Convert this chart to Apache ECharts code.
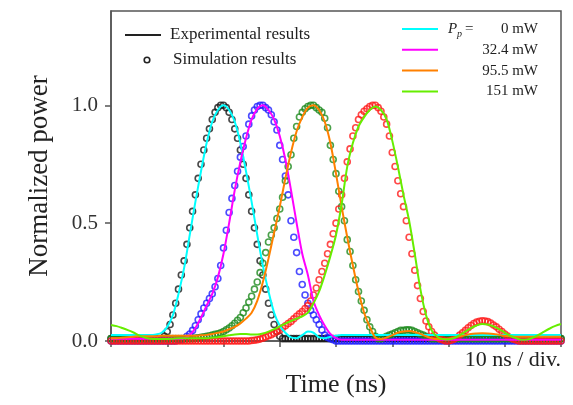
<!DOCTYPE html>
<html>
<head>
<meta charset="utf-8">
<title>Normalized power vs time</title>
<script src="https://cdn.jsdelivr.net/npm/echarts@6.0.0/dist/echarts.min.js"></script>
<style>
  html, body { margin: 0; padding: 0; background: #fff; }
  #main { width: 573px; height: 405px; }
</style>
</head>
<body>
<div id="main"></div>
<script>
// simulated points, one every 0.5 ns
var simTime = [
  0, 0.5, 1, 1.5, 2, 2.5, 3, 3.5, 4, 4.5,
  5, 5.5, 6, 6.5, 7, 7.5, 8, 8.5, 9, 9.5,
  10, 10.5, 11, 11.5, 12, 12.5, 13, 13.5, 14, 14.5,
  15, 15.5, 16, 16.5, 17, 17.5, 18, 18.5, 19, 19.5,
  20, 20.5, 21, 21.5, 22, 22.5, 23, 23.5, 24, 24.5,
  25, 25.5, 26, 26.5, 27, 27.5, 28, 28.5, 29, 29.5,
  30, 30.5, 31, 31.5, 32, 32.5, 33, 33.5, 34, 34.5,
  35, 35.5, 36, 36.5, 37, 37.5, 38, 38.5, 39, 39.5,
  40, 40.5, 41, 41.5, 42, 42.5, 43, 43.5, 44, 44.5,
  45, 45.5, 46, 46.5, 47, 47.5, 48, 48.5, 49, 49.5,
  50, 50.5, 51, 51.5, 52, 52.5, 53, 53.5, 54, 54.5,
  55, 55.5, 56, 56.5, 57, 57.5, 58, 58.5, 59, 59.5,
  60, 60.5, 61, 61.5, 62, 62.5, 63, 63.5, 64, 64.5,
  65, 65.5, 66, 66.5, 67, 67.5, 68, 68.5, 69, 69.5,
  70, 70.5, 71, 71.5, 72, 72.5, 73, 73.5, 74, 74.5,
  75, 75.5, 76, 76.5, 77, 77.5, 78, 78.5, 79, 79.5,
  80
];
var sim0 = [
  0.01, 0.01, 0.01, 0.01, 0.01, 0.01, 0.01, 0.01, 0.01, 0.01,
  0.01, 0.01, 0.01, 0.01, 0.01, 0.01, 0.01, 0.01, 0.01, 0.02,
  0.04, 0.07, 0.11, 0.16, 0.22, 0.28, 0.34, 0.41, 0.48, 0.55,
  0.62, 0.69, 0.75, 0.81, 0.86, 0.9, 0.94, 0.97, 0.99, 1,
  1, 0.99, 0.97, 0.94, 0.9, 0.86, 0.81, 0.75, 0.69, 0.62,
  0.55, 0.48, 0.41, 0.34, 0.28, 0.22, 0.16, 0.11, 0.07, 0.04,
  0.02, 0.01, 0.01, 0.01, 0.01, 0.01, 0.01, 0.01, 0.01, 0.01,
  0.01, 0.01, 0.01, 0.01, 0.01, 0.01, 0.01, 0.01, 0.01, 0.01,
  0.01, 0.01, 0.01, 0.01, 0.01, 0.01, 0.01, 0.01, 0.01, 0.01,
  0.01, 0.01, 0.01, 0.01, 0.01, 0.01, 0.01, 0.01, 0.01, 0.01,
  0.01, 0.01, 0.01, 0.01, 0.01, 0.01, 0.01, 0.01, 0.01, 0.01,
  0.01, 0.01, 0.01, 0.01, 0.01, 0.01, 0.01, 0.01, 0.01, 0.01,
  0.01, 0.01, 0.01, 0.01, 0.01, 0.01, 0.01, 0.01, 0.01, 0.01,
  0.01, 0.01, 0.01, 0.01, 0.01, 0.01, 0.01, 0.01, 0.01, 0.01,
  0.01, 0.01, 0.01, 0.01, 0.01, 0.01, 0.01, 0.01, 0.01, 0.01,
  0.01, 0.01, 0.01, 0.01, 0.01, 0.01, 0.01, 0.01, 0.01, 0.01,
  0.01
];
var sim32 = [
  0, 0, 0, 0, 0, 0, 0, 0, 0, 0,
  0, 0, 0, 0, 0, 0, 0, 0, 0, 0,
  0, 0, 0, 0, 0.003, 0.006, 0.01, 0.02, 0.03, 0.045,
  0.065, 0.09, 0.115, 0.14, 0.16, 0.18, 0.2, 0.23, 0.265, 0.32,
  0.395, 0.47, 0.545, 0.605, 0.66, 0.72, 0.78, 0.825, 0.87, 0.92,
  0.955, 0.98, 0.995, 1, 1, 0.99, 0.98, 0.96, 0.93, 0.895,
  0.83, 0.77, 0.7, 0.62, 0.51, 0.44, 0.375, 0.295, 0.24, 0.195,
  0.16, 0.13, 0.11, 0.09, 0.07, 0.047, 0.025, 0.015, 0.01, 0.005,
  0, 0, 0, 0, 0, 0, 0, 0, 0, 0,
  0, 0, 0, 0, 0, 0, 0, 0, 0, 0,
  0, 0, 0, 0, 0, 0, 0, 0, 0, 0,
  0, 0, 0, 0, 0, 0, 0, 0, 0, 0,
  0, 0, 0, 0, 0, 0, 0, 0, 0, 0,
  0, 0, 0, 0, 0, 0, 0, 0, 0, 0,
  0, 0, 0, 0, 0, 0, 0, 0, 0, 0,
  0, 0, 0, 0, 0, 0, 0, 0, 0, 0,
  0
];
var sim95 = [
  0.01, 0.01, 0.01, 0.01, 0.01, 0.01, 0.01, 0.01, 0.01, 0.01,
  0.01, 0.01, 0.01, 0.01, 0.01, 0.01, 0.01, 0.01, 0.01, 0.01,
  0.01, 0.01, 0.01, 0.01, 0.01, 0.01, 0.01, 0.01, 0.01, 0.01,
  0.012, 0.014, 0.016, 0.018, 0.02, 0.022, 0.025, 0.028, 0.031, 0.035,
  0.04, 0.048, 0.055, 0.065, 0.075, 0.088, 0.1, 0.12, 0.14, 0.165,
  0.19, 0.22, 0.25, 0.29, 0.33, 0.375, 0.42, 0.45, 0.48, 0.52,
  0.56, 0.61, 0.68, 0.74, 0.79, 0.86, 0.91, 0.95, 0.97, 0.985,
  0.995, 1, 1, 0.99, 0.98, 0.97, 0.945, 0.905, 0.83, 0.77,
  0.71, 0.635, 0.57, 0.51, 0.43, 0.38, 0.32, 0.26, 0.21, 0.17,
  0.13, 0.09, 0.06, 0.04, 0.02, 0.01, 0.01, 0.015, 0.02, 0.025,
  0.03, 0.035, 0.04, 0.045, 0.045, 0.047, 0.047, 0.045, 0.04, 0.035,
  0.03, 0.025, 0.02, 0.015, 0.01, 0.01, 0.01, 0.01, 0.01, 0.01,
  0.01, 0.01, 0.01, 0.01, 0.01, 0.01, 0.01, 0.01, 0.01, 0.01,
  0.01, 0.01, 0.01, 0.01, 0.01, 0.01, 0.01, 0.01, 0.01, 0.01,
  0.01, 0.01, 0.01, 0.01, 0.01, 0.01, 0.01, 0.01, 0.01, 0.01,
  0.01, 0.01, 0.01, 0.01, 0.01, 0.01, 0.01, 0.01, 0.01, 0.01,
  0.01
];
var sim151 = [
  0, 0, 0, 0, 0, 0, 0, 0, 0, 0,
  0, 0, 0, 0, 0, 0, 0, 0, 0, 0,
  0, 0, 0, 0, 0, 0, 0, 0, 0, 0,
  0, 0, 0, 0, 0, 0, 0, 0, 0, 0,
  0, 0, 0, 0, 0, 0, 0, 0, 0, 0,
  0.002, 0.003, 0.005, 0.008, 0.012, 0.017, 0.022, 0.027, 0.033, 0.04,
  0.047, 0.056, 0.065, 0.074, 0.083, 0.094, 0.105, 0.115, 0.125, 0.138,
  0.15, 0.17, 0.195, 0.225, 0.26, 0.295, 0.33, 0.37, 0.41, 0.455,
  0.5, 0.56, 0.62, 0.69, 0.76, 0.815, 0.87, 0.905, 0.94, 0.96,
  0.975, 0.985, 0.995, 1, 1, 0.99, 0.975, 0.95, 0.92, 0.87,
  0.8, 0.74, 0.68, 0.625, 0.57, 0.51, 0.44, 0.37, 0.3, 0.235,
  0.18, 0.125, 0.085, 0.06, 0.04, 0.025, 0.015, 0.008, 0.004, 0,
  0, 0.003, 0.008, 0.015, 0.025, 0.035, 0.045, 0.056, 0.066, 0.074,
  0.08, 0.084, 0.086, 0.085, 0.082, 0.076, 0.068, 0.06, 0.05, 0.04,
  0.03, 0.021, 0.014, 0.008, 0.004, 0, 0, 0, 0, 0,
  0, 0, 0, 0, 0, 0, 0, 0, 0, 0,
  0
];

// measured traces, one point per ns
var expTime = [
  0, 1, 2, 3, 4, 5, 6, 7, 8, 9,
  10, 11, 12, 13, 14, 15, 16, 17, 18, 19,
  20, 21, 22, 23, 24, 25, 26, 27, 28, 29,
  30, 31, 32, 33, 34, 35, 36, 37, 38, 39,
  40, 41, 42, 43, 44, 45, 46, 47, 48, 49,
  50, 51, 52, 53, 54, 55, 56, 57, 58, 59,
  60, 61, 62, 63, 64, 65, 66, 67, 68, 69,
  70, 71, 72, 73, 74, 75, 76, 77, 78, 79,
  80
];
var exp0 = [
  0.025, 0.025, 0.025, 0.025, 0.025, 0.025, 0.025, 0.025, 0.028, 0.035,
  0.06, 0.11, 0.2, 0.31, 0.45, 0.59, 0.72, 0.84, 0.93, 0.98,
  1, 0.98, 0.93, 0.84, 0.72, 0.59, 0.45, 0.32, 0.21, 0.12,
  0.065, 0.035, 0.015, 0.012, 0.025, 0.04, 0.035, 0.015, 0.012, 0.018,
  0.022, 0.025, 0.025, 0.025, 0.025, 0.025, 0.025, 0.025, 0.025, 0.025,
  0.025, 0.025, 0.025, 0.025, 0.025, 0.025, 0.025, 0.025, 0.025, 0.025,
  0.025, 0.025, 0.025, 0.025, 0.025, 0.025, 0.025, 0.025, 0.025, 0.025,
  0.025, 0.025, 0.025, 0.025, 0.025, 0.025, 0.025, 0.025, 0.025, 0.025,
  0.025
];
var exp32 = [
  0.01, 0.01, 0.01, 0.01, 0.01, 0.01, 0.01, 0.01, 0.01, 0.01,
  0.01, 0.01, 0.01, 0.012, 0.025, 0.055, 0.1, 0.15, 0.2, 0.27,
  0.37, 0.5, 0.64, 0.76, 0.86, 0.94, 0.985, 1, 0.98, 0.94,
  0.87, 0.77, 0.64, 0.5, 0.37, 0.28, 0.17, 0.11, 0.065, 0.03,
  0.012, 0.005, 0.005, 0.005, 0.005, 0.005, 0.005, 0.005, 0.005, 0.005,
  0.005, 0.005, 0.005, 0.005, 0.005, 0.005, 0.005, 0.005, 0.005, 0.005,
  0.005, 0.005, 0.005, 0.005, 0.005, 0.005, 0.005, 0.005, 0.005, 0.005,
  0.005, 0.005, 0.005, 0.005, 0.005, 0.005, 0.005, 0.005, 0.005, 0.005,
  0.005
];
var exp95 = [
  0.012, 0.012, 0.014, 0.016, 0.018, 0.02, 0.02, 0.02, 0.02, 0.022,
  0.022, 0.022, 0.022, 0.022, 0.022, 0.022, 0.024, 0.026, 0.03, 0.035,
  0.04, 0.05, 0.06, 0.075, 0.095, 0.12, 0.17, 0.25, 0.35, 0.46,
  0.57, 0.69, 0.8, 0.89, 0.95, 0.99, 1, 0.98, 0.93, 0.84,
  0.71, 0.57, 0.44, 0.32, 0.21, 0.12, 0.06, 0.015, 0.008, 0.015,
  0.025, 0.035, 0.04, 0.042, 0.038, 0.03, 0.02, 0.012, 0.008, 0.008,
  0.01, 0.015, 0.02, 0.025, 0.03, 0.032, 0.033, 0.032, 0.03, 0.026,
  0.022, 0.02, 0.018, 0.018, 0.018, 0.018, 0.018, 0.018, 0.018, 0.018,
  0.018
];
var exp151 = [
  0.068, 0.063, 0.055, 0.046, 0.036, 0.024, 0.015, 0.01, 0.008, 0.008,
  0.008, 0.01, 0.012, 0.012, 0.012, 0.012, 0.012, 0.012, 0.014, 0.016,
  0.02, 0.024, 0.028, 0.03, 0.03, 0.028, 0.028, 0.032, 0.04, 0.05,
  0.062, 0.074, 0.085, 0.095, 0.105, 0.12, 0.16, 0.21, 0.28, 0.36,
  0.45, 0.58, 0.74, 0.84, 0.91, 0.95, 0.98, 0.995, 0.98, 0.94,
  0.85, 0.74, 0.62, 0.51, 0.37, 0.22, 0.11, 0.045, 0.018, 0.008,
  0.006, 0.012, 0.025, 0.04, 0.055, 0.066, 0.072, 0.07, 0.062, 0.05,
  0.036, 0.022, 0.012, 0.005, 0.006, 0.014, 0.026, 0.04, 0.053, 0.064,
  0.072
];

var yTicks = [0, 0.5, 1];
var powers = ['0 mW', '32.4 mW', '95.5 mW', '151 mW'];

var serif = '"Times New Roman", "Liberation Serif", serif';
var simColors = ['#1a1a1a', '#1f1fff', '#1d8a1d', '#ff1a1a'];
var expColors = ['#00ffff', '#ff00ff', '#ff8000', '#66ee00'];

function pairs(xs, ys) {
  return xs.map(function (x, i) { return [x, ys[i]]; });
}

var myChart = echarts.init(document.getElementById('main'));

var series = [];
[sim0, sim32, sim95, sim151].forEach(function (ys, i) {
  series.push({
    type: 'scatter',
    data: pairs(simTime, ys),
    symbol: 'circle',
    symbolSize: 6,
    silent: true,
    itemStyle: { color: 'rgba(255,255,255,0)', borderColor: simColors[i], borderWidth: 1.6 }
  });
});
[exp0, exp32, exp95, exp151].forEach(function (ys, i) {
  series.push({
    type: 'line',
    data: pairs(expTime, ys),
    smooth: 0.3,
    showSymbol: false,
    silent: true,
    lineStyle: { color: expColors[i], width: 2 }
  });
});

// legend drawn by hand
var graphic = [
  { type: 'line', shape: { x1: 125, y1: 35, x2: 161, y2: 35 }, style: { stroke: '#222', lineWidth: 2 } },
  { type: 'text', style: { text: 'Experimental results', x: 170, y: 35, font: '17px ' + serif, fill: '#222', textVerticalAlign: 'middle' } },
  { type: 'circle', shape: { cx: 147, cy: 60, r: 2.8 }, style: { fill: 'none', stroke: '#222', lineWidth: 1.6 } },
  { type: 'text', style: { text: 'Simulation results', x: 173, y: 60, font: '17px ' + serif, fill: '#222', textVerticalAlign: 'middle' } },
  { type: 'text', style: { text: 'P', x: 448, y: 29, font: 'italic 15px ' + serif, fill: '#222', textVerticalAlign: 'middle' } },
  { type: 'text', style: { text: 'p', x: 457, y: 34, font: 'italic 10px ' + serif, fill: '#222', textVerticalAlign: 'middle' } },
  { type: 'text', style: { text: '=', x: 465, y: 29, font: '15px ' + serif, fill: '#222', textVerticalAlign: 'middle' } },
  { type: 'text', style: { text: '10 ns / div.', x: 561, y: 360, font: '22px ' + serif, fill: '#222', textAlign: 'right', textVerticalAlign: 'middle' } }
];
powers.forEach(function (p, i) {
  var y = 29 + i * 20.8;
  graphic.push({ type: 'line', shape: { x1: 402, y1: y, x2: 438, y2: y }, style: { stroke: expColors[i], lineWidth: 2 } });
  graphic.push({ type: 'text', style: { text: p, x: 538, y: y, font: '15px ' + serif, fill: '#222', textAlign: 'right', textVerticalAlign: 'middle' } });
});

var option = {
  animation: false,
  backgroundColor: '#fff',
  grid: {
    left: 111, right: 12, top: 11, bottom: 64,
    show: true, borderColor: '#555', borderWidth: 1.5
  },
  xAxis: {
    type: 'value',
    min: 0,
    max: 80,
    interval: 10,
    name: 'Time (ns)',
    nameLocation: 'middle',
    nameGap: 31,
    nameTextStyle: { fontFamily: serif, fontSize: 26, color: '#222' },
    axisLine: { lineStyle: { color: '#555', width: 1.5 } },
    axisTick: { inside: false, length: 6, lineStyle: { color: '#555', width: 1.5 } },
    axisLabel: { show: false },
    splitLine: { show: false }
  },
  yAxis: {
    type: 'value',
    min: 0,
    max: 1.4,
    name: 'Normalized power',
    nameLocation: 'middle',
    nameGap: 58,
    nameTextStyle: { fontFamily: serif, fontSize: 27, color: '#222' },
    axisLine: { show: true, lineStyle: { color: '#555', width: 1.5 } },
    axisTick: { show: true, length: 6, customValues: yTicks, lineStyle: { color: '#555', width: 1.5 } },
    axisLabel: {
      customValues: yTicks,
      margin: 13,
      fontFamily: serif,
      fontSize: 21,
      color: '#333',
      formatter: function (v) { return v.toFixed(1); }
    },
    splitLine: { show: false }
  },
  graphic: graphic,
  series: series
};
myChart.setOption(option);
window.addEventListener('resize', function () { myChart.resize(); });
</script>
</body>
</html>
